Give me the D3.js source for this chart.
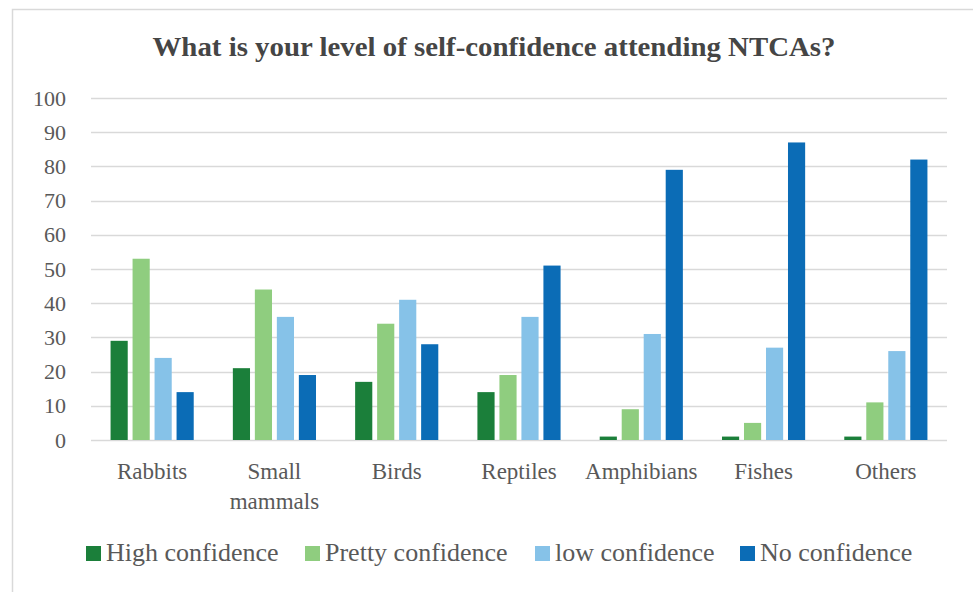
<!DOCTYPE html>
<html lang="en">
  <head>
    <meta charset="utf-8">
    <title>Self-confidence attending NTCAs</title>
    <script src="https://cdn.jsdelivr.net/npm/d3@7/dist/d3.min.js"></script>
    <style>
      body { margin: 0; background: #fff; }
      text { font-family: "Liberation Serif", "DejaVu Serif", serif; fill: #595959; }
    </style>
  </head>
  <body>
    <div id="chart"></div>
    <script>
      const categories = ["Rabbits", "Small mammals", "Birds", "Reptiles", "Amphibians", "Fishes", "Others"];
      const seriesNames = ["High confidence", "Pretty confidence", "low confidence", "No confidence"];
      const seriesColors = ["#1b7f3a", "#8fcd7f", "#86c2e8", "#0b6cb6"];
      const highConfidence = [29, 21, 17, 14, 1, 1, 1];
      const prettyConfidence = [53, 44, 34, 19, 9, 5, 11];
      const lowConfidence = [24, 36, 41, 36, 31, 27, 26];
      const noConfidence = [14, 19, 28, 51, 79, 87, 82];
      const yTicks = [0, 10, 20, 30, 40, 50, 60, 70, 80, 90, 100];

      const series = [highConfidence, prettyConfidence, lowConfidence, noConfidence];

      const svgWidth = 973, svgHeight = 592;
      const margin = { top: 98, right: 26, bottom: 152, left: 91 };
      const width = svgWidth - margin.left - margin.right,
            height = svgHeight - margin.top - margin.bottom;

      const root = d3.select("#chart").append("svg")
          .attr("width", svgWidth)
          .attr("height", svgHeight);

      // outer frame
      root.append("rect")
          .attr("x", 12.5).attr("y", 9.5)
          .attr("width", 975).attr("height", 600)
          .attr("fill", "none")
          .attr("stroke", "#d9d9d9")
          .attr("stroke-width", 1.5);

      root.append("text")
          .attr("x", 494).attr("y", 56)
          .attr("text-anchor", "middle")
          .attr("font-weight", "bold")
          .attr("font-size", 27)
          .attr("textLength", 683)
          .attr("lengthAdjust", "spacingAndGlyphs")
          .style("fill", "#454545")
          .text("What is your level of self-confidence attending NTCAs?");

      const svg = root.append("g")
          .attr("transform", `translate(${margin.left}, ${margin.top})`);

      const x0 = d3.scaleBand()
          .domain(categories)
          .range([0, width])
          .paddingInner(0.32)
          .paddingOuter(0.16);

      const x1 = d3.scaleBand()
          .domain(d3.range(series.length))
          .range([0, x0.bandwidth()])
          .paddingInner(0.22)
          .paddingOuter(0);

      const y = d3.scaleLinear()
          .domain([0, 100])
          .range([height, 0]);

      // gridlines
      svg.append("g")
          .selectAll("line")
          .data(yTicks)
          .enter().append("line")
          .attr("x1", 0).attr("x2", width)
          .attr("y1", d => Math.round(y(d)) + 0.5)
          .attr("y2", d => Math.round(y(d)) + 0.5)
          .attr("stroke", "#d9d9d9")
          .attr("stroke-width", 1.5);

      const yAxis = d3.axisLeft(y).tickValues(yTicks).tickSize(0).tickPadding(25);
      svg.append("g")
          .attr("class", "y-axis")
          .call(yAxis)
          .call(g => g.select(".domain").remove())
          .call(g => g.selectAll("text").attr("font-size", 22).attr("font-family", "Liberation Serif").attr("fill", "#595959"));

      // bars
      const groups = svg.append("g")
          .selectAll("g")
          .data(categories)
          .enter().append("g")
          .attr("transform", d => `translate(${x0(d)}, 0)`);

      groups.selectAll("rect")
          .data((d, i) => series.map((s, k) => ({ k: k, v: s[i] })))
          .enter().append("rect")
          .attr("x", d => x1(d.k))
          .attr("width", x1.bandwidth())
          .attr("y", d => y(d.v))
          .attr("height", d => height - y(d.v))
          .attr("fill", d => seriesColors[d.k]);

      // category labels
      const xLabels = svg.append("g")
          .selectAll("text")
          .data(categories)
          .enter().append("text")
          .attr("x", d => x0(d) + x0.bandwidth() / 2)
          .attr("y", height + 39)
          .attr("text-anchor", "middle")
          .attr("font-size", 23);

      xLabels.each(function(d) {
          const words = d === "Small mammals" ? ["Small", "mammals"] : [d];
          d3.select(this).selectAll("tspan")
              .data(words)
              .enter().append("tspan")
              .attr("x", x0(d) + x0.bandwidth() / 2)
              .attr("dy", (w, i) => i === 0 ? 0 : 30)
              .text(w => w);
      });

      // legend
      const legendX = [86, 305, 535, 740];
      const legend = root.append("g")
          .selectAll("g")
          .data(seriesNames)
          .enter().append("g")
          .attr("transform", (d, i) => `translate(${legendX[i]}, 546)`);

      legend.append("rect")
          .attr("width", 15).attr("height", 15)
          .attr("fill", (d, i) => seriesColors[i]);

      legend.append("text")
          .attr("x", 20).attr("y", 15)
          .attr("font-size", 26)
          .text(d => d);
    </script>
  </body>
</html>
